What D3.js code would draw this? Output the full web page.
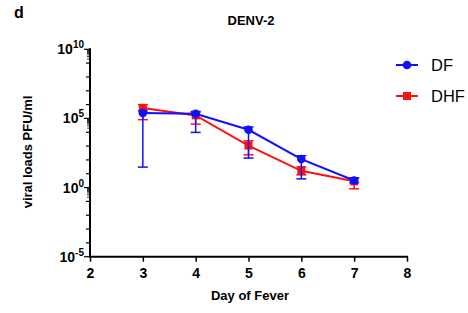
<!DOCTYPE html>
<html>
<head>
<meta charset="utf-8">
<script src="https://cdn.jsdelivr.net/npm/d3@7"></script>
<style>
  body { margin: 0; background: #fff; }
  text { font-family: "Liberation Sans", Arial, sans-serif; }
</style>
</head>
<body>
<div id="chart"></div>
<script>
// days and log10 values
var days = [3, 4, 5, 6, 7];
var dfLog = [5.39, 5.34, 4.18, 2.06, 0.51];
var dfLow = [1.48, 3.99, 2.13, 0.63, 0.35];
var dfHigh = [5.55, 5.5, 4.38, 2.3, 0.7];
var dhfLog = [5.75, 5.22, 3.04, 1.21, 0.45];
var dhfLow = [4.91, 4.59, 2.37, 0.92, -0.09];
var dhfHigh = [6.0, 5.45, 3.38, 1.5, 0.68];
var xTicks = [2, 3, 4, 5, 6, 7, 8];
var yExps = [-5, 0, 5, 10];

var W = 468, H = 313;
var svg = d3.select("#chart").append("svg").attr("width", W).attr("height", H);

var x = d3.scaleLinear().domain([2, 8]).range([90, 407]);
var y = d3.scaleLog().domain([1e-5, 1e10]).range([256.7, 49.3]);

// panel letter and title
svg.append("text").attr("x", 14).attr("y", 18).attr("font-size", 16).attr("font-weight", "bold").text("d");
svg.append("text").attr("x", 251).attr("y", 25).attr("text-anchor", "middle")
  .attr("font-size", 13).attr("font-weight", "bold").text("DENV-2");

// y axis with log minor ticks
var yAxis = svg.append("g");
yAxis.append("line").attr("x1", 90).attr("x2", 90).attr("y1", y(1e10) - 1).attr("y2", y(1e-5) + 1)
  .attr("stroke", "#000").attr("stroke-width", 2);
for (var e = -5; e <= 10; e++) {
  var len = yExps.indexOf(e) >= 0 ? 6 : 4;
  yAxis.append("line").attr("x1", 90 - len).attr("x2", 90).attr("y1", y(Math.pow(10, e))).attr("y2", y(Math.pow(10, e)))
    .attr("stroke", "#000").attr("stroke-width", 1.2);
}
yExps.slice(1).forEach(function(m) {
  for (var k = 2; k <= 9; k++) {
    var v = k * Math.pow(10, m - 1);
    yAxis.append("line").attr("x1", 87).attr("x2", 90).attr("y1", y(v)).attr("y2", y(v))
      .attr("stroke", "#000").attr("stroke-width", 0.8);
  }
});
yExps.forEach(function(ex) {
  var t = yAxis.append("text").attr("x", 84).attr("y", y(Math.pow(10, ex)) + 5)
    .attr("text-anchor", "end").attr("font-size", 14).attr("font-weight", "bold");
  t.append("tspan").text("10");
  t.append("tspan").attr("font-size", 10).attr("dy", -6).text(ex === -5 ? "-5" : String(ex));
});

// x axis
var xAxis = svg.append("g").attr("transform", "translate(0," + y(1e-5) + ")")
  .call(d3.axisBottom(x).tickValues(xTicks).tickSize(5).tickPadding(6).tickFormat(d3.format("d")));
xAxis.select(".domain").attr("stroke-width", 2).attr("d", "M89,0H408");
xAxis.selectAll(".tick line").attr("stroke-width", 1.5);
xAxis.selectAll("text").attr("font-size", 14).attr("font-weight", "bold").attr("font-family", "Liberation Sans, Arial, sans-serif");

// axis titles
svg.append("text").attr("x", 250).attr("y", 300).attr("text-anchor", "middle")
  .attr("font-size", 13).attr("font-weight", "bold").text("Day of Fever");
svg.append("text").attr("transform", "translate(32,152) rotate(-90)").attr("text-anchor", "middle")
  .attr("font-size", 13).attr("font-weight", "bold").text("viral loads PFU/ml");

function pow(v) { return Math.pow(10, v); }

function drawSeries(vals, lo, hi, color, shape) {
  var g = svg.append("g");
  var line = d3.line().x(function(d, i) { return x(days[i]); }).y(function(d) { return y(pow(d)); });
  g.append("path").datum(vals).attr("d", line).attr("fill", "none").attr("stroke", color).attr("stroke-width", 2);
  days.forEach(function(d, i) {
    var cx = x(d);
    g.append("line").attr("x1", cx).attr("x2", cx).attr("y1", y(pow(lo[i]))).attr("y2", y(pow(hi[i])))
      .attr("stroke", color).attr("stroke-width", 1.5);
    [lo[i], hi[i]].forEach(function(v) {
      g.append("line").attr("x1", cx - 5).attr("x2", cx + 5).attr("y1", y(pow(v))).attr("y2", y(pow(v)))
        .attr("stroke", color).attr("stroke-width", 1.5);
    });
    if (shape === "circle") {
      g.append("circle").attr("cx", cx).attr("cy", y(pow(vals[i]))).attr("r", 4.3).attr("fill", color);
    } else {
      g.append("rect").attr("x", cx - 4).attr("y", y(pow(vals[i])) - 4).attr("width", 8).attr("height", 8).attr("fill", color);
    }
  });
}

drawSeries(dhfLog, dhfLow, dhfHigh, "#ff1010", "square");
drawSeries(dfLog, dfLow, dfHigh, "#1010ff", "circle");

// legend
var legend = [{ name: "DF", color: "#1010ff", shape: "circle", y: 65 },
              { name: "DHF", color: "#ff1010", shape: "square", y: 96 }];
legend.forEach(function(l) {
  svg.append("line").attr("x1", 396).attr("x2", 418).attr("y1", l.y).attr("y2", l.y)
    .attr("stroke", l.color).attr("stroke-width", 2);
  if (l.shape === "circle") {
    svg.append("circle").attr("cx", 407).attr("cy", l.y).attr("r", 4.3).attr("fill", l.color);
  } else {
    svg.append("rect").attr("x", 403).attr("y", l.y - 4).attr("width", 8).attr("height", 8).attr("fill", l.color);
  }
  svg.append("text").attr("x", 431).attr("y", l.y + 6).attr("font-size", 16.5).text(l.name);
});
</script>
</body>
</html>
